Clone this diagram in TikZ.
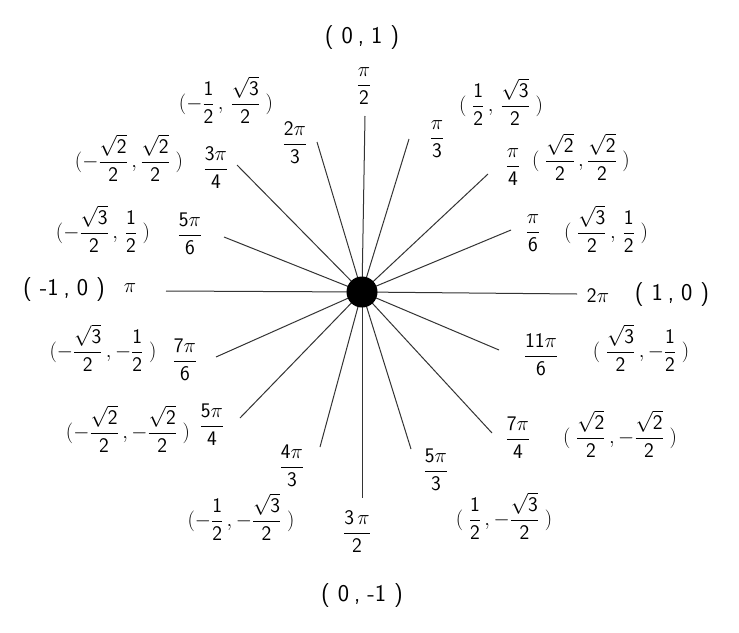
\documentclass[tikz,border=0pt]{standalone}
\usepackage{amsmath}
\newcommand\fr[2]{\dfrac{\mathsf{#1}}{\mathsf{#2}}}
\newcommand\sq[1]{\sqrt{\mathsf{#1}}}
\newcommand\tup[2]{(\hspace{8pt}#1\hspace{5pt},\hspace{7pt}#2\hspace{8pt})}
\begin{document}
\begin{tikzpicture}[x=1pt,y=-1pt,
  ray/.style={draw=black!80,line width=1pt},
  dotc/.style={circle,fill=black,inner sep=0pt,minimum size=31pt},
  ang/.style={font=\fontsize{22}{25}\selectfont,inner sep=0pt},
  pair/.style={font=\fontsize{22}{25}\selectfont,inner sep=0pt},
  axis/.style={font=\sffamily\fontsize{24}{28}\selectfont,inner sep=0pt}]
\useasboundingbox (0,0) rectangle (739,632);
\fill[white] (0,0) rectangle (739,632);
\coordinate (o) at (362,292);
% outer ends of rays
\coordinate (e0) at (577,294);
\coordinate (e30) at (511,230);
\coordinate (e45) at (488,174);
\coordinate (e60) at (409,139);
\coordinate (e90) at (365,116);
\coordinate (e120) at (317,142);
\coordinate (e135) at (237,165);
\coordinate (e150) at (224,237);
\coordinate (e180) at (166,291);
\coordinate (e210) at (216,357);
\coordinate (e225) at (240,418);
\coordinate (e240) at (320,447);
\coordinate (e270) at (362,498);
\coordinate (e300) at (411,449);
\coordinate (e315) at (492,433);
\coordinate (e330) at (499,350);
\foreach \a in {0,30,45,60,90,120,135,150,180,210,225,240,270,300,315,330}
  \draw[ray] (o) -- (e\a);
\node[dotc] (c) at (o) {};
% angle labels
\node[ang] (a90) at (364,86) {$\dfrac{\pi}{\mathsf{2}}$};
\node[ang] (a60) at (437,139) {$\dfrac{\pi}{\mathsf{3}}$};
\node[ang] (a45) at (513,167) {$\dfrac{\pi}{\mathsf{4}}$};
\node[ang] (a30) at (533,233) {$\dfrac{\pi}{\mathsf{6}}$};
\node[ang] (a0) at (598,296) {$\mathsf{2}\pi$};
\node[ang] (a330) at (541,355) {$\dfrac{\mathsf{11}\pi}{\mathsf{6}}$};
\node[ang] (a315) at (518,438) {$\dfrac{\mathsf{7}\pi}{\mathsf{4}}$};
\node[ang] (a300) at (436,470) {$\dfrac{\mathsf{5}\pi}{\mathsf{3}}$};
\node[ang] (a270) at (357,532) {$\dfrac{\mathsf{3}\,\pi}{\mathsf{2}}$};
\node[ang] (a240) at (292,466) {$\dfrac{\mathsf{4}\pi}{\mathsf{3}}$};
\node[ang] (a225) at (212,425) {$\dfrac{\mathsf{5}\pi}{\mathsf{4}}$};
\node[ang] (a210) at (185,360) {$\dfrac{\mathsf{7}\pi}{\mathsf{6}}$};
\node[ang] (a180) at (130,288) {$\pi$};
\node[ang] (a150) at (190,234) {$\dfrac{\mathsf{5}\pi}{\mathsf{6}}$};
\node[ang] (a135) at (216,168) {$\dfrac{\mathsf{3}\pi}{\mathsf{4}}$};
\node[ang] (a120) at (295,143) {$\dfrac{\mathsf{2}\pi}{\mathsf{3}}$};
% coordinate labels
\node[axis] (p90) at (362,38) {\tup{0}{1}};
\node[axis] (p270) at (362,596) {\tup{0}{-1}};
\node[axis] (p180) at (64,290) {\tup{-1}{0}};
\node[axis] (p0) at (672,295) {\tup{1}{0}};
\node[pair] (p60) at (501,102) {$(\;\fr12\,,\,\dfrac{\sq3}{\mathsf2}\;)$};
\node[pair] (p45) at (581,157) {$(\;\dfrac{\sq2}{\mathsf2}\,,\dfrac{\sq2}{\mathsf2}\;)$};
\node[pair] (p30) at (606,229) {$(\;\dfrac{\sq3}{\mathsf2}\,,\,\fr12\;)$};
\node[pair] (p330) at (641,348) {$(\;\dfrac{\sq3}{\mathsf2}\,,-\fr12\;)$};
\node[pair] (p315) at (620,434) {$(\;\dfrac{\sq2}{\mathsf2}\,,-\dfrac{\sq2}{\mathsf2}\;)$};
\node[pair] (p300) at (504,516) {$(\;\fr12\,,-\dfrac{\sq3}{\mathsf2}\;)$};
\node[pair] (p240) at (241,517) {$(-\fr12\,,-\dfrac{\sq3}{\mathsf2}\;)$};
\node[pair] (p225) at (128,429) {$(-\dfrac{\sq2}{\mathsf2}\,,-\dfrac{\sq2}{\mathsf2}\;)$};
\node[pair] (p210) at (103,348) {$(-\dfrac{\sq3}{\mathsf2}\,,-\fr12\;)$};
\node[pair] (p150) at (103,229) {$(-\dfrac{\sq3}{\mathsf2}\,,\,\fr12\;)$};
\node[pair] (p135) at (129,158) {$(-\dfrac{\sq2}{\mathsf2}\,,\dfrac{\sq2}{\mathsf2}\;)$};
\node[pair] (p120) at (226,100) {$(-\fr12\,,\,\dfrac{\sq3}{\mathsf2}\;)$};
\end{tikzpicture}
\end{document}
